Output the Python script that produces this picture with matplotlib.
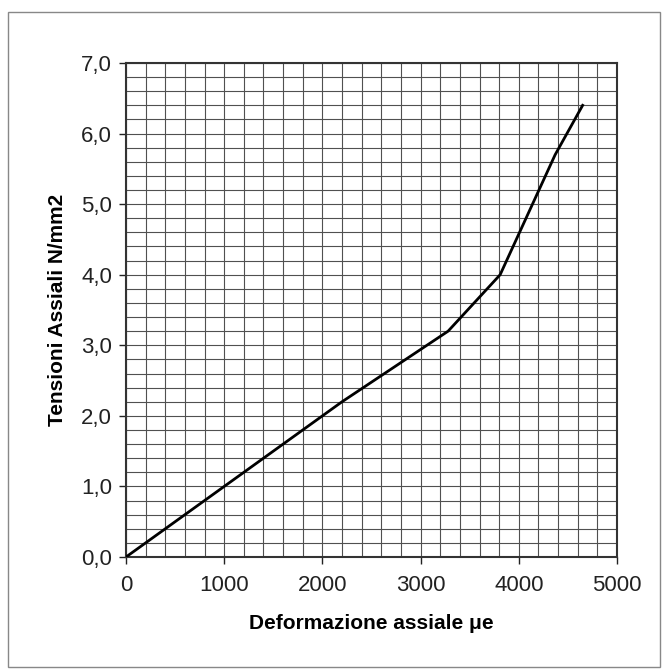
import matplotlib
matplotlib.use("Agg")
import matplotlib.pyplot as plt
from matplotlib.ticker import MultipleLocator, FuncFormatter
from matplotlib.patches import Rectangle

# dati
deformazione = [0, 1000, 2200, 3280, 3810, 4370, 4650]   # micro-epsilon
tensione = [0.0, 1.0, 2.2, 3.2, 4.0, 5.7, 6.4]          # N/mm2

x_ticks = [0, 1000, 2000, 3000, 4000, 5000]
y_ticks = [0, 1, 2, 3, 4, 5, 6, 7]

plt.rcParams['font.family'] = ['Liberation Sans', 'DejaVu Sans']

fig = plt.figure(figsize=(6.67, 6.70), dpi=100)
ax = fig.add_axes([126 / 667, 1 - 557 / 670, (617 - 126) / 667, (557 - 63) / 670])

# cornice esterna
fig.patches.append(Rectangle((8 / 667, 0.005), 652 / 667, 1 - 12 / 670 - 0.005,
                             transform=fig.transFigure, fill=False,
                             edgecolor='#888888', linewidth=1.0))

ax.plot(deformazione, tensione, color='black', linewidth=2.0, zorder=3)

ax.set_xlim(0, 5000)
ax.set_ylim(0, 7)
ax.set_xticks(x_ticks)
ax.set_yticks(y_ticks)
ax.xaxis.set_minor_locator(MultipleLocator(200))
ax.yaxis.set_minor_locator(MultipleLocator(0.2))
ax.yaxis.set_major_formatter(FuncFormatter(lambda v, p: f"{v:.1f}".replace('.', ',')))

ax.grid(True, which='both', color='#505050', linewidth=0.8)
ax.set_axisbelow(True)
ax.tick_params(which='minor', length=0)
ax.tick_params(which='major', length=5, width=1.0, labelsize=16, colors='#222222')
ax.tick_params(axis='y', pad=5)
ax.tick_params(axis='x', pad=8)

for s in ax.spines.values():
    s.set_color('#333333')
    s.set_linewidth(1.5)

ax.set_xlabel("Deformazione assiale μe", fontsize=15, fontweight='bold', labelpad=13)
ax.set_ylabel("Tensioni Assiali N/mm2", fontsize=15, fontweight='bold', labelpad=10)

fig.savefig("out.png", dpi=100)
